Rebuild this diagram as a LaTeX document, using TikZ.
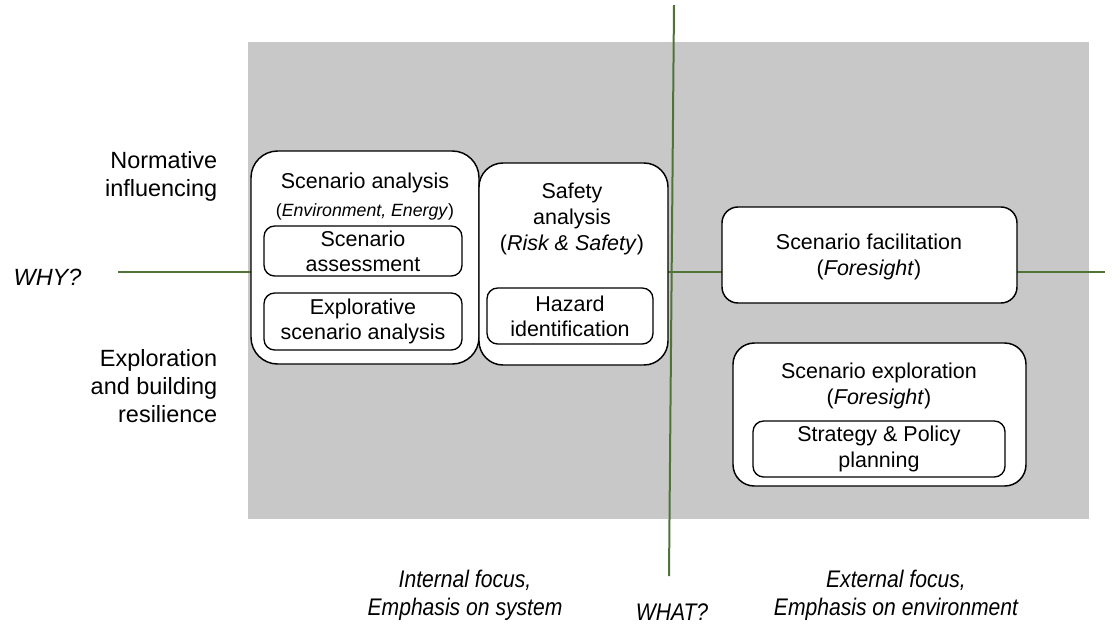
\documentclass[tikz,border=0pt]{standalone}
\usepackage{fontspec}
\setmainfont{Liberation Sans}
\newfontfamily\narrowfont[FakeStretch=0.88]{Liberation Sans}
\usepackage{tikz}
\usetikzlibrary{positioning}

\definecolor{panelgray}{RGB}{200,200,200}
\definecolor{axisgreen}{RGB}{80,115,55}

\tikzset{
  side/.style = {align=right, font=\fontsize{17.6}{21}\selectfont},
  question/.style = {font=\itshape\fontsize{17.6}{21}\selectfont},
  focus/.style = {align=center, font=\narrowfont\itshape\fontsize{18}{21}\selectfont},
  bigbox/.style = {draw, fill=white, line width=1.1pt, rounded corners=18pt, inner sep=0pt},
  smallbox/.style = {draw, fill=white, line width=1pt, rounded corners=8pt, inner sep=0pt,
                     align=center, font=\fontsize{16.1}{19}\selectfont},
  title/.style = {align=center, font=\fontsize{16.1}{19.5}\selectfont},
  axis/.style = {draw=axisgreen, line width=1.5pt}
}

\begin{document}
\begin{tikzpicture} [x=0.75pt, y=-0.75pt]

\useasboundingbox (0,0) rectangle (1118,626);
\fill [panelgray] (248,42) rectangle (1089,519);

% axes
\coordinate (why-l) at (118,272);
\coordinate (why-r) at (1105,272);
\coordinate (what-t) at (674,5);
\coordinate (what-b) at (669,576);
\path [axis] (why-l) -- (why-r);
\path [axis] (what-t) -- (what-b);

% left boxes
\node (sa) [bigbox, rounded corners=20pt, minimum width=171pt, minimum height=159.75pt] at (365,257.5) {};
\node (sf) [bigbox, minimum width=141.75pt, minimum height=151.5pt] at (573.5,264) {};
\node (satitle) [title] at (365,183) {Scenario analysis};
\node (sasub) [font=\fontsize{13.3}{16}\selectfont] at (365,212) {(\textit{Environment, Energy})};
\node (sas) [smallbox, minimum width=148.5pt, minimum height=37.5pt] at (363,251) {Scenario\\assessment};
\node (esa) [smallbox, minimum width=148.5pt, minimum height=42.75pt] at (363,321.5) {Explorative\\scenario analysis};
\node (sftitle) [title] at (572,219) {Safety\\analysis\\(\textit{Risk \& Safety})};
\node (hz) [smallbox, minimum width=124.5pt, minimum height=42pt] at (570,316) {Hazard\\identification};

% right boxes
\node (fac) [bigbox, rounded corners=12pt, minimum width=221.25pt, minimum height=72pt] at (869.5,255) {};
\node (factitle) [title] at (869,256.5) {Scenario facilitation\\(\textit{Foresight})};
\node (exp) [bigbox, rounded corners=16pt, minimum width=219.75pt, minimum height=107.25pt] at (879.5,414.5) {};
\node (exptitle) [title] at (879,386) {Scenario exploration\\(\textit{Foresight})};
\node (stp) [smallbox, minimum width=189pt, minimum height=42pt] at (879,449) {Strategy \& Policy\\planning};

% labels
\node (norm) [side, anchor=east] at (222,176) {Normative\\influencing};
\node (expl) [side, anchor=east] at (222,386) {Exploration\\and building\\resilience};
\node (why) [question] at (47.5,277) {WHY?};
\node (what) [question, font=\narrowfont\itshape\fontsize{18}{21}\selectfont] at (672,612) {WHAT?};
\node (intf) [focus] at (465,595) {Internal focus,\\Emphasis on system};
\node (extf) [focus] at (896,595) {External focus,\\Emphasis on environment};
\end{tikzpicture}
\end{document}
